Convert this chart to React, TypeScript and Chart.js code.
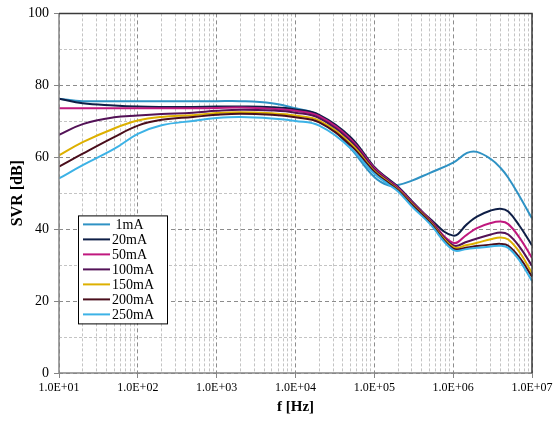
import React, { useEffect, useRef } from 'react';
import { Chart, registerables } from 'chart.js';

Chart.register(...registerables);

const FREQ = [10, 20, 50, 100, 200, 500, 1e3, 2e3, 5e3, 1e4, 2e4, 5e4, 1e5, 1.5e5, 2e5, 3e5, 5e5, 1e6, 1.5e6, 2e6, 3e6, 4e6, 5e6, 7e6, 1e7];

const SVR_1MA = [76.3, 75.6, 75.6, 75.6, 75.6, 75.6, 75.6, 75.6, 75.0, 73.6, 71.5, 62.5, 54.5, 52.2, 52.3, 53.5, 55.6, 58.5, 61.2, 61.5, 59.5, 57.0, 54.3, 49.0, 43.0];
const SVR_20MA = [76.3, 75.0, 74.4, 74.1, 74.0, 74.0, 74.1, 74.1, 73.9, 73.3, 71.8, 65.6, 57.3, 54.0, 51.8, 47.8, 43.0, 38.2, 41.4, 43.5, 45.2, 45.7, 44.9, 40.8, 35.5];
const SVR_50MA = [73.6, 73.6, 73.6, 73.6, 73.6, 73.6, 73.7, 73.8, 73.5, 72.9, 71.4, 65.0, 57.0, 53.7, 51.5, 47.5, 42.8, 36.2, 38.5, 40.3, 41.7, 42.1, 41.4, 37.5, 32.0];
const SVR_100MA = [66.2, 69.2, 71.1, 71.6, 72.0, 72.4, 72.9, 73.2, 73.0, 72.4, 70.9, 64.5, 56.6, 53.4, 51.2, 47.2, 42.5, 35.5, 36.5, 37.4, 38.5, 39.1, 38.5, 35.0, 29.8];
const SVR_150MA = [60.5, 64.2, 68.0, 70.2, 71.2, 71.7, 72.3, 72.5, 72.2, 71.6, 70.2, 63.8, 56.2, 53.1, 51.0, 47.0, 42.2, 35.0, 35.6, 36.2, 37.2, 37.7, 37.1, 33.5, 27.8];
const SVR_200MA = [57.4, 61.0, 65.6, 68.8, 70.4, 71.2, 71.8, 72.1, 71.8, 71.1, 69.7, 63.3, 55.9, 52.9, 50.8, 46.8, 42.0, 34.6, 34.9, 35.3, 35.7, 35.9, 35.4, 32.0, 26.8];
const SVR_250MA = [54.1, 57.8, 62.3, 66.5, 68.9, 70.1, 70.9, 71.2, 70.8, 70.1, 68.8, 62.5, 55.4, 52.5, 50.5, 46.3, 41.6, 34.2, 34.5, 34.8, 35.2, 35.4, 34.8, 31.2, 25.6];

const SERIES = [SVR_1MA, SVR_20MA, SVR_50MA, SVR_100MA, SVR_150MA, SVR_200MA, SVR_250MA];
const LABELS = ['1mA', '20mA', '50mA', '100mA', '150mA', '200mA', '250mA'];
const COLORS = ['#2F92C4', '#0E1E46', '#C0187E', '#531257', '#DDB000', '#4A0E1C', '#3CB2E6'];

const X_TICK_VALUES = [1e1, 1e2, 1e3, 1e4, 1e5, 1e6, 1e7];
const X_TICK_LABELS = ['1.0E+01', '1.0E+02', '1.0E+03', '1.0E+04', '1.0E+05', '1.0E+06', '1.0E+07'];
const Y_MAJOR_STEP = 20;

const FONT = "'Liberation Serif', 'Times New Roman', serif";

const isPow10 = (v: number) => {
  const l = Math.log10(v);
  return Math.abs(l - Math.round(l)) < 1e-9;
};

const frameAndLegend = {
  id: 'frameAndLegend',
  afterDatasetsDraw(chart: any) {
    const { ctx, chartArea } = chart;
    const { left, right, top, bottom } = chartArea;
    ctx.save();
    ctx.strokeStyle = '#858585';
    ctx.lineWidth = 1.5;
    ctx.beginPath();
    ctx.moveTo(left, top);
    ctx.lineTo(left, bottom);
    ctx.lineTo(right, bottom);
    ctx.stroke();
    ctx.strokeStyle = '#3a3a3a';
    ctx.lineWidth = 1.5;
    ctx.beginPath();
    ctx.moveTo(left, top);
    ctx.lineTo(right, top);
    ctx.lineTo(right, bottom);
    ctx.stroke();

    const bx = left + 19;
    const by = top + 202;
    const bw = 89;
    const bh = 108;
    ctx.fillStyle = '#ffffff';
    ctx.fillRect(bx, by, bw, bh);
    ctx.strokeStyle = '#000000';
    ctx.lineWidth = 1;
    ctx.strokeRect(bx + 0.5, by + 0.5, bw, bh);
    ctx.font = `14px ${FONT}`;
    ctx.textBaseline = 'middle';
    ctx.textAlign = 'left';
    chart.data.datasets.forEach((ds: any, i: number) => {
      const y = by + 9 + i * 15;
      ctx.strokeStyle = ds.borderColor;
      ctx.lineWidth = 2;
      ctx.beginPath();
      ctx.moveTo(bx + 5, y);
      ctx.lineTo(bx + 32, y);
      ctx.stroke();
      ctx.fillStyle = '#000000';
      const txt = ds.label === '1mA' ? ' 1mA' : ds.label;
      ctx.fillText(txt, bx + 34, y + 0.5);
    });
    ctx.restore();
  },
};

export default function App() {
  const ref = useRef<HTMLCanvasElement | null>(null);

  useEffect(() => {
    document.body.style.margin = '0';
    const canvas = ref.current;
    if (!canvas) return;
    Chart.defaults.font.family = FONT;
    Chart.defaults.color = '#000';

    const datasets = SERIES.map((vals, i) => ({
      label: LABELS[i],
      data: FREQ.map((f, j) => ({ x: f, y: vals[j] })),
      borderColor: COLORS[i],
      backgroundColor: COLORS[i],
      borderWidth: 2,
      pointRadius: 0,
      fill: false,
      tension: 0.4,
      order: SERIES.length - i,
    }));

    const chart = new Chart(canvas, {
      type: 'line',
      data: { datasets },
      plugins: [frameAndLegend],
      options: {
        animation: false,
        responsive: false,
        devicePixelRatio: 1,
        layout: { padding: { left: 0, right: 24, top: 10, bottom: 0 } },
        plugins: { legend: { display: false }, tooltip: { enabled: false } },
        scales: {
          x: {
            type: 'logarithmic',
            min: 10,
            max: 1e7,
            afterBuildTicks: (scale: any) => {
              const ticks: any[] = [];
              for (let e = 1; e < 7; e++) {
                for (let m = 1; m < 10; m++) {
                  ticks.push({ value: m * Math.pow(10, e), major: m === 1 });
                }
              }
              ticks.push({ value: 1e7, major: true });
              scale.ticks = ticks;
            },
            afterFit: (scale: any) => {
              scale.height = 50;
            },
            ticks: {
              autoSkip: false,
              maxRotation: 0,
              minRotation: 0,
              padding: 3,
              font: { size: 12 },
              color: '#000',
              callback: (v: any) => {
                const idx = X_TICK_VALUES.findIndex((t) => Math.abs(t - Number(v)) / t < 1e-9);
                return idx >= 0 ? X_TICK_LABELS[idx] : '';
              },
            },
            grid: {
              color: (c: any) => (c.tick && isPow10(c.tick.value) ? '#8c8c8c' : '#c4c4c4'),
              lineWidth: 1,
              drawTicks: true,
              tickLength: 5,
              tickColor: (c: any) => (c.tick && isPow10(c.tick.value) ? '#858585' : 'rgba(0,0,0,0)'),
            },
            border: {
              display: false,
              dash: (c: any) => (c.tick && isPow10(c.tick.value) ? [4, 3] : [3, 2]),
            },
            title: {
              display: true,
              text: 'f [Hz]',
              font: { size: 15, weight: 'bold' },
              color: '#000',
              padding: { top: 0, bottom: 7 },
            },
          },
          y: {
            type: 'linear',
            min: 0,
            max: 100,
            afterFit: (scale: any) => {
              scale.width = 59;
            },
            ticks: {
              stepSize: 10,
              padding: 5,
              font: { size: 14 },
              color: '#000',
              callback: (v: any) => (Number(v) % Y_MAJOR_STEP === 0 ? String(v) : ''),
            },
            grid: {
              color: (c: any) => (c.tick && c.tick.value % Y_MAJOR_STEP === 0 ? '#8c8c8c' : '#c4c4c4'),
              lineWidth: 1,
              drawTicks: true,
              tickLength: 5,
              tickColor: (c: any) => (c.tick && c.tick.value % Y_MAJOR_STEP === 0 ? '#858585' : 'rgba(0,0,0,0)'),
            },
            border: {
              display: false,
              dash: (c: any) => (c.tick && c.tick.value % Y_MAJOR_STEP === 0 ? [4, 3] : [3, 2]),
            },
            title: {
              display: true,
              text: 'SVR [dB]',
              font: { size: 16, weight: 'bold' },
              color: '#000',
              padding: { top: 8, bottom: 0 },
            },
          },
        },
      },
    });

    return () => {
      chart.destroy();
    };
  }, []);

  return (
    <div style={{ position: 'fixed', left: 0, top: 0, width: 556, height: 423, background: '#ffffff' }}>
      <canvas ref={ref} width={556} height={423} style={{ display: 'block' }} />
    </div>
  );
}
